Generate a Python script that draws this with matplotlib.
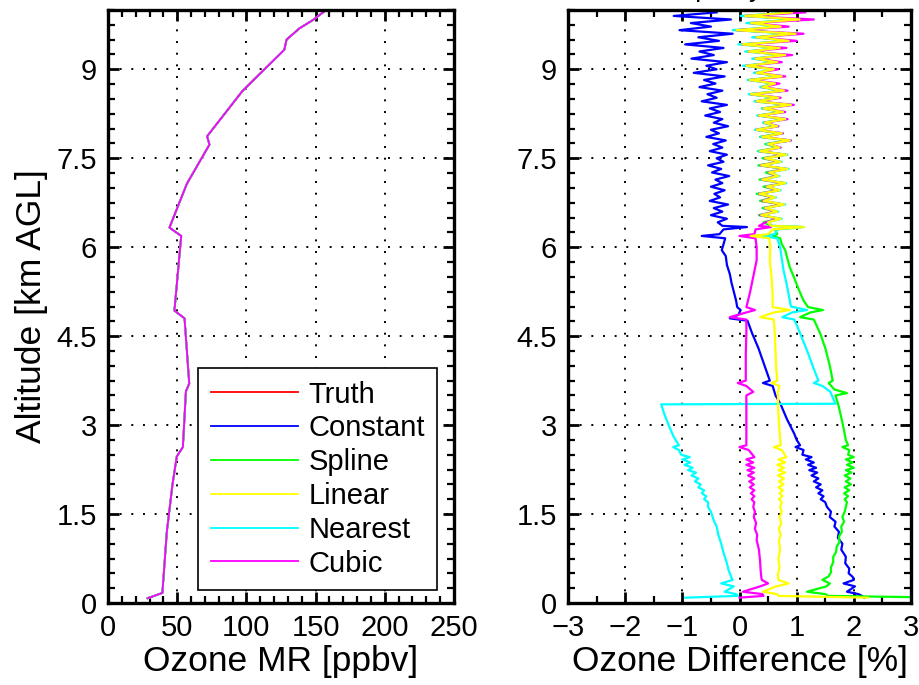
import numpy as np
import matplotlib.pyplot as plt
from matplotlib.ticker import MultipleLocator

plt.rcParams['font.family'] = ['Liberation Sans', 'DejaVu Sans']

methods = ['Truth', 'Constant', 'Spline', 'Linear', 'Nearest', 'Cubic']
colors = ['#ff0000', '#0000ff', '#00ff00', '#ffff00', '#00ffff', '#ff00ff']

# truth ozone profile (left panel)
truth_alt = [0.08, 0.17, 0.4, 1.2, 2.0, 2.47, 2.63, 3.57, 3.7, 4.8, 4.93, 6.19, 6.33,
             7.07, 7.73, 7.87, 8.63, 9.33, 9.5, 9.69, 9.83, 9.98]
truth_mr = [28.6, 39.3, 40.0, 42.5, 46.6, 49.7, 54.1, 56.3, 58.7, 55.3, 48.0, 52.9, 44.4,
            57.0, 73.3, 71.6, 97.0, 127.4, 129.0, 138.3, 148.0, 156.5]

# upper noisy part of the difference profiles (60 levels, 6.42 .. 9.96 km)
alt_hi = np.linspace(6.42, 9.96, 60)
const_hi = [-0.38, -0.22, -0.50, -0.30, -0.45, -0.20, -0.52, -0.34, -0.44, -0.26,
            -0.50, -0.30, -0.42, -0.18, -0.48, -0.32, -0.55, -0.28, -0.40, -0.22,
            -0.52, -0.30, -0.46, -0.24, -0.58, -0.36, -0.50, -0.20, -0.45, -0.30,
            -0.60, -0.34, -0.52, -0.22, -0.66, -0.40, -0.56, -0.30, -0.70, -0.42,
            -0.62, -0.26, -0.80, -0.40, -0.58, -0.22, -0.84, -0.45, -0.70, -0.28,
            -0.95, -0.36, -0.72, -0.12, -1.05, -0.50, -0.85, -0.15, -1.15, -0.40]
spline_hi = [0.42, 0.70, 0.34, 0.64, 0.40, 0.76, 0.36, 0.60, 0.30, 0.68,
             0.42, 0.78, 0.35, 0.66, 0.46, 0.82, 0.33, 0.70, 0.40, 0.80,
             0.32, 0.68, 0.45, 0.86, 0.36, 0.72, 0.28, 0.64, 0.42, 0.78,
             0.32, 0.74, 0.40, 0.88, 0.28, 0.66, 0.18, 0.76, 0.38, 0.60,
             0.18, 0.74, 0.30, 0.60, 0.12, 0.66, 0.28, 0.80, 0.16, 0.70,
             0.05, 0.86, 0.30, 0.98, -0.05, 0.72, 0.20, 1.05, 0.10, 0.92]
linear_hi = [0.50, 0.72, 0.38, 0.66, 0.45, 0.78, 0.42, 0.62, 0.35, 0.70,
             0.48, 0.80, 0.40, 0.68, 0.52, 0.84, 0.38, 0.72, 0.45, 0.82,
             0.36, 0.70, 0.50, 0.88, 0.40, 0.74, 0.30, 0.66, 0.44, 0.80,
             0.34, 0.76, 0.42, 0.90, 0.30, 0.68, 0.20, 0.78, 0.40, 0.62,
             0.18, 0.74, 0.30, 0.60, 0.12, 0.66, 0.28, 0.80, 0.16, 0.70,
             0.05, 0.86, 0.30, 0.98, -0.05, 0.72, 0.20, 1.05, 0.10, 0.92]
nearest_hi = [0.48, 0.74, 0.36, 0.68, 0.43, 0.80, 0.40, 0.64, 0.33, 0.72,
              0.46, 0.82, 0.38, 0.70, 0.50, 0.86, 0.36, 0.74, 0.43, 0.84,
              0.33, 0.72, 0.47, 0.90, 0.37, 0.76, 0.27, 0.68, 0.41, 0.82,
              0.31, 0.78, 0.39, 0.92, 0.26, 0.70, 0.16, 0.80, 0.36, 0.64,
              0.14, 0.76, 0.25, 0.62, 0.06, 0.68, 0.22, 0.82, 0.10, 0.72,
              -0.02, 0.88, 0.22, 1.00, -0.12, 0.74, 0.12, 1.02, 0.02, 0.94]
cubic_hi = [0.46, 0.70, 0.36, 0.64, 0.44, 0.76, 0.40, 0.60, 0.34, 0.68,
            0.47, 0.78, 0.39, 0.66, 0.51, 0.82, 0.37, 0.70, 0.44, 0.80,
            0.36, 0.72, 0.50, 0.90, 0.40, 0.76, 0.30, 0.68, 0.44, 0.84,
            0.34, 0.80, 0.42, 0.95, 0.30, 0.72, 0.20, 0.84, 0.40, 0.70,
            0.18, 0.80, 0.30, 0.68, 0.12, 0.74, 0.28, 0.92, 0.16, 0.82,
            0.05, 1.00, 0.30, 1.12, -0.05, 0.86, 0.20, 1.30, 0.10, 1.15]

# middle part 6.36 .. 2.46 km (top -> bottom)
const_mid_alt = [6.36, 6.34, 6.30, 6.22, 6.19, 6.15, 6.05, 5.95, 5.85, 5.7, 5.55, 5.4, 5.25,
                 5.1, 4.99, 4.94, 4.86, 4.80, 4.76, 4.55, 4.3, 4.0, 3.75, 3.71, 3.66, 3.5,
                 3.35, 3.1, 2.85, 2.75, 2.66, 2.63, 2.58, 2.5, 2.46]
const_mid = [-0.30, 0.13, -0.28, -0.35, -0.66, -0.25, -0.28, -0.31, -0.24, -0.22, -0.17, -0.14, -0.10,
             -0.06, -0.04, 0.02, -0.02, -0.17, 0.14, 0.22, 0.33, 0.44, 0.53, 0.41, 0.58, 0.63,
             0.72, 0.83, 0.96, 1.00, 1.06, 0.98, 1.12, 1.10, 1.26]
spline_mid_alt = [6.36, 6.34, 6.30, 6.22, 6.19, 6.15, 6.05, 5.95, 5.8, 5.66, 5.5, 5.3, 5.1,
                  4.99, 4.94, 4.90, 4.82, 4.78, 4.55, 4.3, 4.0, 3.75, 3.71, 3.6, 3.54, 3.5,
                  3.3, 3.0, 2.75, 2.66, 2.63, 2.58, 2.5, 2.46]
spline_mid = [0.55, 1.12, 0.62, 0.66, 0.58, 0.71, 0.74, 0.80, 0.84, 0.88, 0.95, 1.03, 1.12,
              1.20, 1.46, 1.24, 1.06, 1.30, 1.41, 1.50, 1.58, 1.63, 1.56, 1.66, 1.88, 1.68,
              1.74, 1.81, 1.86, 1.90, 1.80, 1.92, 1.90, 2.00]
linear_mid_alt = [6.36, 6.34, 6.30, 6.22, 6.19, 6.15, 6.0, 5.78, 5.5, 5.2, 4.99, 4.94, 4.90,
                  4.82, 4.78, 4.5, 4.0, 3.75, 3.71, 3.66, 3.56, 3.2, 2.9, 2.66, 2.63, 2.58, 2.46]
linear_mid = [0.55, 1.12, 0.58, 0.50, 0.20, 0.52, 0.54, 0.53, 0.56, 0.58, 0.58, 0.88, 0.60,
              0.36, 0.60, 0.62, 0.64, 0.66, 0.56, 0.70, 0.67, 0.68, 0.70, 0.72, 0.60, 0.74, 0.82]
nearest_mid_alt = [6.36, 6.34, 6.30, 6.22, 6.19, 6.15, 6.0, 5.8, 5.61, 5.4, 5.2, 5.0, 4.94,
                   4.90, 4.82, 4.78, 4.55, 4.26, 4.0, 3.75, 3.71, 3.66, 3.56, 3.42, 3.36, 3.35,
                   3.2, 3.0, 2.8, 2.66, 2.63, 2.58, 2.5, 2.46]
nearest_mid = [0.58, 1.08, 0.66, 0.62, 0.40, 0.66, 0.71, 0.74, 0.77, 0.82, 0.86, 0.90, 1.18,
               0.92, 0.75, 0.96, 1.06, 1.18, 1.28, 1.38, 1.30, 1.45, 1.59, 1.65, 1.68, -1.37,
               -1.32, -1.24, -1.15, -1.06, -1.16, -1.06, -1.02, -0.87]
cubic_mid_alt = [6.36, 6.34, 6.30, 6.22, 6.19, 6.15, 6.0, 5.78, 5.5, 5.22, 4.99, 4.94, 4.90,
                 4.82, 4.78, 4.55, 4.2, 3.75, 3.71, 3.66, 3.56, 3.5, 3.0, 2.66, 2.63, 2.58, 2.46]
cubic_mid = [0.34, 0.55, 0.28, 0.26, 0.00, 0.28, 0.30, 0.30, 0.24, 0.18, 0.12, 0.27, 0.12,
             -0.17, 0.12, 0.12, 0.11, 0.11, -0.03, 0.12, 0.24, 0.12, 0.12, 0.12, 0.00, 0.16, 0.26]

# jagged band 2.42 .. 1.62 km
alt_band = [2.42, 2.37, 2.33, 2.28, 2.24, 2.2, 2.15, 2.1, 2.05, 2.0, 1.95, 1.9, 1.85, 1.8, 1.75, 1.7, 1.62]
const_band = [1.16, 1.30, 1.20, 1.34, 1.22, 1.36, 1.26, 1.38, 1.30, 1.42, 1.34, 1.45, 1.38, 1.47, 1.42, 1.50, 1.53]
spline_band = [1.86, 1.98, 1.88, 2.00, 1.86, 1.96, 1.84, 1.94, 1.86, 1.95, 1.84, 1.92, 1.83, 1.90, 1.84, 1.88, 1.86]
linear_band = [0.68, 0.80, 0.66, 0.78, 0.68, 0.80, 0.67, 0.78, 0.69, 0.77, 0.68, 0.76, 0.70, 0.75, 0.69, 0.74, 0.71]
nearest_band = [-1.00, -0.86, -0.96, -0.82, -0.90, -0.76, -0.84, -0.72, -0.78, -0.68, -0.72, -0.62, -0.66, -0.58, -0.62, -0.55, -0.55]
cubic_band = [0.12, 0.24, 0.12, 0.26, 0.14, 0.25, 0.15, 0.26, 0.17, 0.25, 0.18, 0.26, 0.20, 0.26, 0.21, 0.26, 0.24]

# bottom part below 1.6 km (top -> bottom)
const_lo_alt = [1.54, 1.45, 1.37, 1.29, 1.2, 1.1, 1.0, 0.9, 0.78, 0.67, 0.58, 0.5, 0.44, 0.39,
                0.33, 0.28, 0.19, 0.15, 0.12, 0.09]
const_lo = [1.60, 1.58, 1.68, 1.66, 1.74, 1.72, 1.80, 1.78, 1.86, 1.85, 1.92, 1.91, 1.98, 2.00,
            1.82, 2.02, 1.88, 2.08, 2.14, 2.18]
spline_lo_alt = [1.54, 1.45, 1.37, 1.29, 1.2, 1.12, 1.03, 0.95, 0.86, 0.78, 0.69, 0.6, 0.52, 0.45,
                 0.39, 0.33, 0.28, 0.19, 0.15, 0.12, 0.09]
spline_lo = [1.84, 1.80, 1.83, 1.78, 1.79, 1.74, 1.75, 1.70, 1.69, 1.64, 1.64, 1.60, 1.60, 1.56,
             1.45, 1.58, 1.52, 1.18, 1.50, 1.55, 3.60]
linear_lo_alt = [1.54, 1.45, 1.35, 1.25, 1.15, 1.05, 0.9, 0.75, 0.6, 0.48, 0.39, 0.33, 0.28,
                 0.19, 0.15, 0.12, 0.09]
linear_lo = [0.74, 0.70, 0.73, 0.69, 0.72, 0.69, 0.71, 0.68, 0.70, 0.67, 0.68, 0.86, 0.64,
             0.41, 0.66, 0.68, 2.25]
nearest_lo_alt = [1.54, 1.45, 1.37, 1.29, 1.15, 1.0, 0.85, 0.67, 0.55, 0.45, 0.39, 0.33, 0.28,
                  0.19, 0.15, 0.12, 0.09]
nearest_lo = [-0.50, -0.47, -0.44, -0.40, -0.37, -0.32, -0.28, -0.22, -0.19, -0.15, -0.12, -0.32, -0.10,
              -0.26, -0.06, -0.03, -0.95]
cubic_lo_alt = [1.54, 1.45, 1.35, 1.25, 1.15, 1.06, 0.9, 0.7, 0.55, 0.45, 0.39, 0.33, 0.28,
                0.19, 0.15, 0.12, 0.09]
cubic_lo = [0.27, 0.25, 0.29, 0.27, 0.31, 0.30, 0.34, 0.36, 0.37, 0.38, 0.39, 0.50, 0.36,
            0.06, 0.40, 0.42, 0.00]

diff = {
    'Constant': (const_hi, const_mid_alt, const_mid, const_band, const_lo_alt, const_lo),
    'Spline': (spline_hi, spline_mid_alt, spline_mid, spline_band, spline_lo_alt, spline_lo),
    'Linear': (linear_hi, linear_mid_alt, linear_mid, linear_band, linear_lo_alt, linear_lo),
    'Nearest': (nearest_hi, nearest_mid_alt, nearest_mid, nearest_band, nearest_lo_alt, nearest_lo),
    'Cubic': (cubic_hi, cubic_mid_alt, cubic_mid, cubic_band, cubic_lo_alt, cubic_lo),
}

fig = plt.figure(figsize=(9.19, 6.85), dpi=100)
ax1 = fig.add_axes([108 / 919, 1 - 603 / 685, 346 / 919, 593 / 685])
ax2 = fig.add_axes([568 / 919, 1 - 603 / 685, 343 / 919, 593 / 685])

# left: ozone mixing ratio, all methods on top of each other
for name, c in zip(methods, colors):
    ax1.plot(truth_mr, truth_alt, color=c, lw=1.3, label=name)

# right: difference to truth
draw_order = ['Constant', 'Spline', 'Nearest', 'Cubic', 'Linear']
for name in draw_order:
    c = colors[methods.index(name)]
    hi, mid_alt, mid, band, lo_alt, lo = diff[name]
    a = np.concatenate([alt_hi[::-1], mid_alt, alt_band, lo_alt])
    x = np.concatenate([np.array(hi)[::-1], mid, band, lo])
    ax2.plot(x, a, color=c, lw=1.6)

yt = [0, 1.5, 3, 4.5, 6, 7.5, 9]
for ax in (ax1, ax2):
    ax.set_ylim(0, 10)
    ax.set_yticks(yt)
    ax.set_yticklabels(['%g' % v for v in yt])
    ax.yaxis.set_minor_locator(MultipleLocator(0.25))
    ax.tick_params(which='both', direction='in', top=True, right=True, labelsize=21, pad=8)
    ax.tick_params(which='major', length=8, width=2)
    ax.tick_params(which='minor', length=5, width=1.6)
    ax.grid(True, which='major', color='k', linestyle=(0, (1, 5)), linewidth=1.4)
    for s in ax.spines.values():
        s.set_linewidth(2.4)

ax1.set_xlim(0, 250)
ax1.set_xticks([0, 50, 100, 150, 200, 250])
ax1.xaxis.set_minor_locator(MultipleLocator(10))
ax1.set_xlabel('Ozone MR [ppbv]', fontsize=25.5, labelpad=2)
ax1.set_ylabel('Altitude [km AGL]', fontsize=25.5, labelpad=6)

ax2.set_xlim(-3, 3)
ax2.set_xticks([-3, -2, -1, 0, 1, 2, 3])
ax2.set_xticklabels(['\u22123', '\u22122', '\u22121', '0', '1', '2', '3'])
ax2.xaxis.set_minor_locator(MultipleLocator(0.5))
ax2.set_xlabel('Ozone Difference [%]', fontsize=25.5, labelpad=2)

leg = ax1.legend(loc='lower right', bbox_to_anchor=(0.951, 0.022), fontsize=21,
                 handlelength=3.0, labelspacing=0.2, handletextpad=0.35,
                 borderpad=0.42, borderaxespad=0, fancybox=False, framealpha=1)
leg.get_frame().set_edgecolor('k')
leg.get_frame().set_linewidth(1.2)

# title mostly above the top edge of the figure
fig.text(710 / 919, 1 + 4 / 685, 'Disparity', fontsize=20, ha='center', va='baseline')

fig.savefig('out.png', dpi=100)
